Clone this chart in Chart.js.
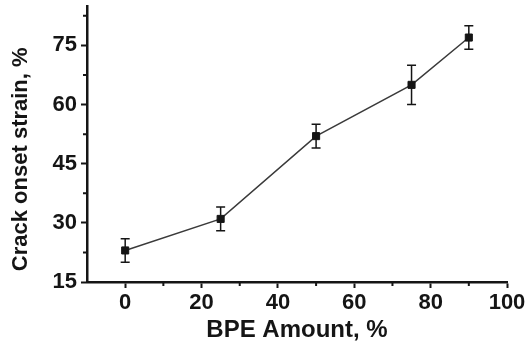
<!DOCTYPE html>
<html>
<head>
<meta charset="utf-8">
<script src="https://cdn.jsdelivr.net/npm/chart.js@4/dist/chart.umd.min.js"></script>
<style>
  html, body { margin: 0; padding: 0; background: #fff; }
  #wrap { width: 528px; height: 345px; position: relative; }
</style>
</head>
<body>
<div id="wrap"><canvas id="c"></canvas></div>
<script>
// ---- data ----
const bpeAmount = [0, 25, 50, 75, 90];
const crackStrain = [23, 31, 52, 65, 77];
const strainError = [3, 3, 3, 5, 3];
const xTicks = [0, 20, 40, 60, 80, 100];
const yTicks = [15, 30, 45, 60, 75];
const xMinorTicks = [10, 30, 50, 70, 90];
const yMinorTicks = [22.5, 37.5, 52.5, 67.5, 82.5];
const xTitle = 'BPE Amount, %';
const yTitle = 'Crack onset strain, %';

const FONT = 'Liberation Sans, Arial, Helvetica, sans-serif';
const INK = '#151515';

const points = bpeAmount.map((x, i) => ({ x: x, y: crackStrain[i] }));

const errorBars = {
  id: 'errorBars',
  afterDatasetsDraw(chart) {
    const ctx = chart.ctx;
    const xs = chart.scales.x, ys = chart.scales.y;
    ctx.save();
    ctx.strokeStyle = INK;
    ctx.lineWidth = 1.5;
    const cap = 4.5;
    bpeAmount.forEach((x, i) => {
      const px = xs.getPixelForValue(x);
      const top = ys.getPixelForValue(crackStrain[i] + strainError[i]);
      const bot = ys.getPixelForValue(crackStrain[i] - strainError[i]);
      ctx.beginPath();
      ctx.moveTo(px, top); ctx.lineTo(px, bot);
      ctx.moveTo(px - cap, top); ctx.lineTo(px + cap, top);
      ctx.moveTo(px - cap, bot); ctx.lineTo(px + cap, bot);
      ctx.stroke();
    });
    ctx.restore();
  }
};

const minorTicks = {
  id: 'minorTicks',
  afterDraw(chart) {
    const ctx = chart.ctx;
    const xs = chart.scales.x, ys = chart.scales.y;
    const a = chart.chartArea;
    ctx.save();
    ctx.strokeStyle = INK;
    ctx.lineWidth = 2;
    ctx.beginPath();
    xMinorTicks.forEach(v => {
      const px = xs.getPixelForValue(v);
      ctx.moveTo(px, a.bottom); ctx.lineTo(px, a.bottom + 4);
    });
    yMinorTicks.forEach(v => {
      const py = ys.getPixelForValue(v);
      ctx.moveTo(a.left, py); ctx.lineTo(a.left - 4, py);
    });
    ctx.stroke();
    ctx.restore();
  }
};

new Chart(document.getElementById('c'), {
  type: 'scatter',
  data: {
    datasets: [{
      data: points,
      showLine: true,
      borderColor: '#3a3a3a',
      borderWidth: 1.5,
      backgroundColor: INK,
      pointStyle: 'rect',
      pointRadius: 5,
      pointBorderWidth: 1,
      pointBorderColor: INK,
      pointBackgroundColor: INK,
      tension: 0
    }]
  },
  options: {
    responsive: true,
    maintainAspectRatio: false,
    animation: false,
    devicePixelRatio: 1,
    layout: { padding: { top: 6, right: 21, left: 0, bottom: 0 } },
    plugins: { legend: { display: false }, tooltip: { enabled: false } },
    scales: {
      x: {
        type: 'linear',
        min: -10, max: 100,
        afterBuildTicks: (axis) => { axis.ticks = xTicks.map(v => ({ value: v })); },
        afterFit: (scale) => { scale.height = 63; },
        grid: { drawOnChartArea: false, drawTicks: true, tickLength: 6, color: INK, tickWidth: 2 },
        border: { display: true, color: INK, width: 2.5 },
        ticks: { color: INK, font: { family: FONT, size: 22, weight: 'bold' }, padding: 2, maxRotation: 0 },
        title: { display: true, text: xTitle, color: INK, font: { family: FONT, size: 24, weight: 'bold' }, padding: { top: 0, bottom: 0 } }
      },
      y: {
        type: 'linear',
        min: 15, max: 85,
        afterBuildTicks: (axis) => { axis.ticks = yTicks.map(v => ({ value: v })); },
        afterFit: (scale) => { scale.width = 87; scale.paddingTop = 0; scale.paddingBottom = 0; },
        grid: { drawOnChartArea: false, drawTicks: true, tickLength: 6, color: INK, tickWidth: 2 },
        border: { display: true, color: INK, width: 2.5 },
        ticks: { color: INK, font: { family: FONT, size: 22, weight: 'bold' }, padding: 4 },
        title: { display: true, text: yTitle + '     ', color: INK, font: { family: FONT, size: 22, weight: 'bold' }, padding: { top: 8, bottom: 0 } }
      }
    }
  },
  plugins: [errorBars, minorTicks]
});
</script>
</body>
</html>
